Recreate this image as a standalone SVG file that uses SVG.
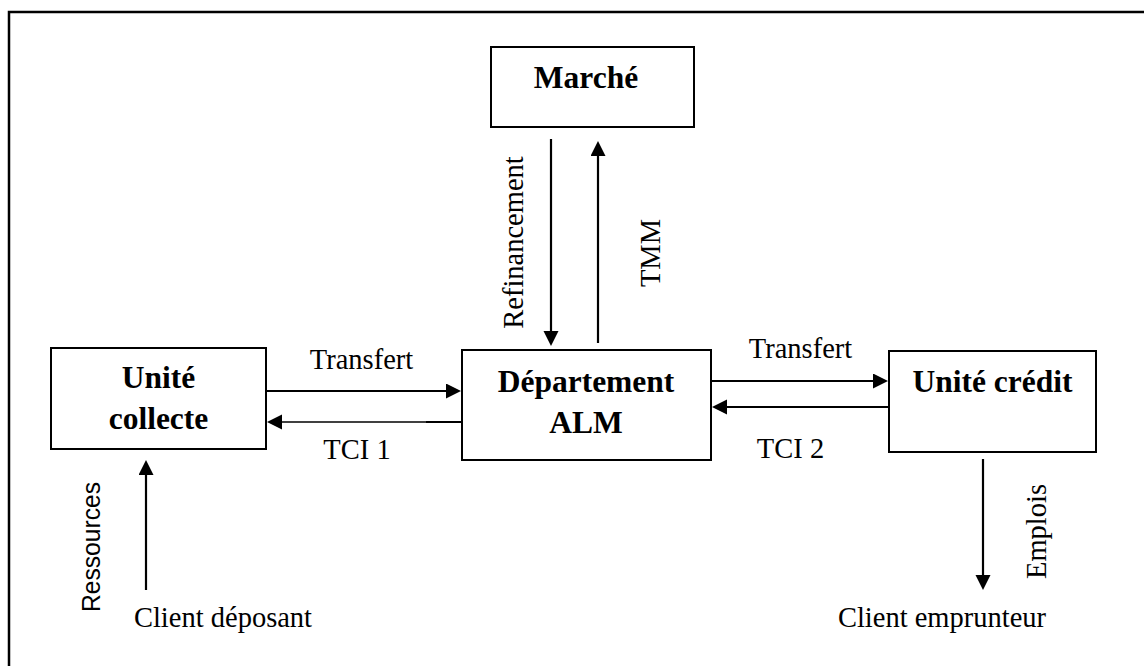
<svg xmlns="http://www.w3.org/2000/svg" width="1144" height="666" viewBox="0 0 1144 666">
<style>
.box{fill:#fff;stroke:#000;stroke-width:2}
.b{font-family:"Liberation Serif","Times New Roman",serif;font-weight:bold;font-size:31.5px;fill:#000;text-anchor:middle}
.r{font-family:"Liberation Serif","Times New Roman",serif;font-size:28.5px;fill:#000;text-anchor:middle}
.s{font-family:"Liberation Sans",Arial,sans-serif;font-size:26px;fill:#000;text-anchor:middle}
.ln{stroke:#000;stroke-width:2.2;fill:none}
.thin{stroke:#000;stroke-width:1.3;fill:none}
</style>
<defs>
<marker id="ah" markerUnits="userSpaceOnUse" markerWidth="16" markerHeight="16" refX="1" refY="7.5" orient="auto">
<path d="M0,0 L15,7.5 L0,15 z" fill="#000"/>
</marker>
</defs>
<rect x="0" y="0" width="1144" height="666" fill="#fff"/>
<path d="M9,666 L9,12 L1144,12" fill="none" stroke="#000" stroke-width="2.5"/>

<g id="marche">
<rect class="box" x="491" y="47" width="203" height="80"/>
<text class="b" x="586" y="88">Marché</text>
</g>
<g id="departement">
<rect class="box" x="462" y="350" width="249" height="110"/>
<text class="b" x="586" y="392">Département</text>
<text class="b" x="586" y="433">ALM</text>
</g>
<g id="collecte">
<rect class="box" x="51" y="348" width="215" height="101"/>
<text class="b" x="158.5" y="388">Unité</text>
<text class="b" x="158.5" y="429">collecte</text>
</g>
<g id="credit">
<rect class="box" x="889" y="351" width="207" height="101"/>
<text class="b" x="992.5" y="392">Unité crédit</text>
</g>
<g id="client-deposant">
<text class="r" x="223" y="627">Client déposant</text>
</g>
<g id="client-emprunteur">
<text class="r" x="942" y="627">Client emprunteur</text>
</g>

<g id="connectors">
<line class="ln" x1="266" y1="391" x2="447" y2="391" marker-end="url(#ah)"/>
<line class="ln" x1="462" y1="422" x2="426" y2="422"/>
<line class="thin" x1="427" y1="422" x2="281" y2="422" marker-end="url(#ah)"/>
<line class="ln" x1="711" y1="381" x2="874" y2="381" marker-end="url(#ah)"/>
<line class="ln" x1="889" y1="407" x2="726" y2="407" marker-end="url(#ah)"/>
<line class="ln" x1="551" y1="139" x2="551" y2="332" marker-end="url(#ah)"/>
<line class="ln" x1="598" y1="343" x2="598" y2="155" marker-end="url(#ah)"/>
<line class="ln" x1="146" y1="590" x2="146" y2="474" marker-end="url(#ah)"/>
<line class="ln" x1="983" y1="459" x2="983" y2="576" marker-end="url(#ah)"/>
<text class="r" x="361.5" y="369">Transfert</text>
<text class="r" x="357" y="459">TCI 1</text>
<text class="r" x="800.5" y="358">Transfert</text>
<text class="r" x="790.5" y="458">TCI 2</text>
<text class="r" transform="translate(523,242.5) rotate(-90)">Refinancement</text>
<text class="r" transform="translate(660,253) rotate(-90)">TMM</text>
<text class="s" transform="translate(100,547) rotate(-90)" textLength="130" lengthAdjust="spacingAndGlyphs">Ressources</text>
<text class="r" transform="translate(1046,531.5) rotate(-90)">Emplois</text>
</g>
</svg>
